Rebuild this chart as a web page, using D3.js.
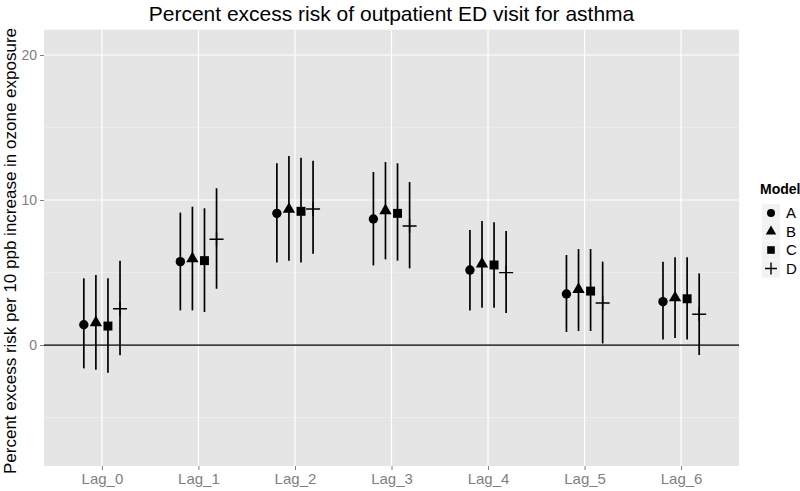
<!DOCTYPE html>
<html>
<head>
<meta charset="utf-8">
<script src="https://cdn.jsdelivr.net/npm/d3@7/dist/d3.min.js"></script>
<style>
  html, body { margin: 0; padding: 0; background: #ffffff; }
  svg { display: block; font-family: "Liberation Sans", Arial, sans-serif; }
</style>
</head>
<body>
<svg id="chart" width="800" height="491"></svg>
<script>
// ---- Data ----
const lags = ["Lag_0", "Lag_1", "Lag_2", "Lag_3", "Lag_4", "Lag_5", "Lag_6"];
const models = ["A", "B", "C", "D"];

const estA = [1.40, 5.75, 9.08, 8.69, 5.17, 3.52, 2.99];
const loA  = [-1.61, 2.39, 5.70, 5.49, 2.39, 0.90, 0.39];
const hiA  = [4.60, 9.13, 12.53, 11.93, 7.93, 6.21, 5.75];

const estB = [1.54, 5.95, 9.36, 9.26, 5.59, 3.84, 3.26];
const loB  = [-1.70, 2.39, 5.82, 5.91, 2.57, 0.97, 0.48];
const hiB  = [4.83, 9.54, 13.03, 12.62, 8.55, 6.62, 6.05];

const estC = [1.31, 5.82, 9.22, 9.08, 5.52, 3.72, 3.19];
const loC  = [-1.91, 2.28, 5.70, 5.82, 2.57, 0.97, 0.39];
const hiC  = [4.60, 9.43, 12.92, 12.53, 8.46, 6.62, 6.05];

const estD = [2.50, 7.29, 9.38, 8.21, 4.99, 2.90, 2.12];
const loD  = [-0.71, 3.88, 6.30, 5.29, 2.21, 0.11, -0.69];
const hiD  = [5.82, 10.81, 12.71, 11.24, 7.86, 5.75, 4.94];

const yMajorTicks = [0, 10, 20];
const yMinorTicks = [-5, 5, 15];
const yDomain = [-8.34, 21.75];

const titleText = "Percent excess risk of outpatient ED visit for asthma";
const yLabelText = "Percent excess risk per 10 ppb increase in ozone exposure";
const legendTitle = "Model";

// ---- Build rows ----
const seriesEst = [estA, estB, estC, estD];
const seriesLo = [loA, loB, loC, loD];
const seriesHi = [hiA, hiB, hiC, hiD];
const rows = [];
models.forEach((m, mi) => {
  lags.forEach((l, li) => {
    rows.push({ model: m, mi: mi, lag: l, est: seriesEst[mi][li], lo: seriesLo[mi][li], hi: seriesHi[mi][li] });
  });
});

// ---- Layout ----
const panel = { left: 44, right: 739, top: 29.6, bottom: 466 };
const svg = d3.select("#chart");

const x = d3.scalePoint().domain(lags).range([panel.left, panel.right]).padding(0.6);
const y = d3.scaleLinear().domain(yDomain).range([panel.bottom, panel.top]);
const dodge = d3.scalePoint().domain(models).range([-0.1875, 0.1875]);

// Panel background
svg.append("rect")
  .attr("x", panel.left).attr("y", panel.top)
  .attr("width", panel.right - panel.left).attr("height", panel.bottom - panel.top)
  .attr("fill", "#E5E5E5");

// Minor grid
svg.append("g").selectAll("line").data(yMinorTicks).join("line")
  .attr("x1", panel.left).attr("x2", panel.right)
  .attr("y1", d => y(d)).attr("y2", d => y(d))
  .attr("stroke", "#F2F2F2").attr("stroke-width", 0.6);

// Major grid
svg.append("g").selectAll("line").data(yMajorTicks).join("line")
  .attr("x1", panel.left).attr("x2", panel.right)
  .attr("y1", d => y(d)).attr("y2", d => y(d))
  .attr("stroke", "#FFFFFF").attr("stroke-width", 1.2);
svg.append("g").selectAll("line").data(lags).join("line")
  .attr("x1", d => x(d)).attr("x2", d => x(d))
  .attr("y1", panel.top).attr("y2", panel.bottom)
  .attr("stroke", "#FFFFFF").attr("stroke-width", 1.2);

// Zero line
svg.append("line")
  .attr("x1", panel.left).attr("x2", panel.right)
  .attr("y1", y(0)).attr("y2", y(0))
  .attr("stroke", "#404040").attr("stroke-width", 1.8);

// Axes
const axisColor = "#7F7F7F";
const yAxis = svg.append("g").attr("transform", `translate(${panel.left},0)`)
  .call(d3.axisLeft(y).tickValues(yMajorTicks).tickSize(4).tickPadding(3).tickFormat(d3.format("d")));
yAxis.select(".domain").remove();
yAxis.selectAll("line").attr("stroke", axisColor).attr("stroke-width", 1);
yAxis.selectAll("text").attr("fill", axisColor).style("font-size", "14px")
  .style("font-family", "'Liberation Sans', Arial, sans-serif");

const xAxis = svg.append("g").attr("transform", `translate(0,${panel.bottom})`)
  .call(d3.axisBottom(x).tickSize(4).tickPadding(3));
xAxis.select(".domain").remove();
xAxis.selectAll("line").attr("stroke", axisColor).attr("stroke-width", 1);
xAxis.selectAll("text").attr("fill", axisColor).style("font-size", "15px")
  .style("font-family", "'Liberation Sans', Arial, sans-serif");

// Error bars
const step = x.step();
const px = d => x(d.lag) + dodge(d.model) * step;
svg.append("g").selectAll("line").data(rows).join("line")
  .attr("x1", px).attr("x2", px)
  .attr("y1", d => y(d.lo)).attr("y2", d => y(d.hi))
  .attr("stroke", "#000").attr("stroke-width", 1.7);

// Shapes
const plusPath = s => `M${-s},0H${s}M0,${-s}V${s}`;
function drawShape(g, model, scale) {
  const k = scale || 1;
  if (model === "A") {
    g.append("circle").attr("r", 4.7 * k).attr("fill", "#000");
  } else if (model === "B") {
    g.append("path").attr("d", d3.symbol(d3.symbolTriangle, 66 * k * k)()).attr("fill", "#000");
  } else if (model === "C") {
    g.append("path").attr("d", d3.symbol(d3.symbolSquare, 80 * k * k)()).attr("fill", "#000");
  } else {
    g.append("path").attr("d", plusPath(7 * k)).attr("stroke", "#000").attr("stroke-width", 1.4).attr("fill", "none");
  }
}
const pts = svg.append("g");
rows.forEach(d => {
  const g = pts.append("g").attr("transform", `translate(${px(d)},${y(d.est)})`);
  drawShape(g, d.model, 1);
});

// Title
svg.append("text")
  .attr("x", (panel.left + panel.right) / 2).attr("y", 21)
  .attr("text-anchor", "middle")
  .style("font-size", "21px").attr("fill", "#000")
  .text(titleText);

// Y label
svg.append("text")
  .attr("transform", `translate(16,${251}) rotate(-90)`)
  .attr("text-anchor", "middle")
  .style("font-size", "17px").attr("fill", "#000")
  .text(yLabelText);

// Legend
const leg = svg.append("g");
leg.append("text").attr("x", 760).attr("y", 194)
  .style("font-size", "14px").style("font-weight", "bold").attr("fill", "#000")
  .text(legendTitle);
models.forEach((m, i) => {
  const cy = 213 + i * 18.5;
  leg.append("rect").attr("x", 762).attr("y", cy - 9).attr("width", 18).attr("height", 18)
    .attr("fill", "#F2F2F2");
  const g = leg.append("g").attr("transform", `translate(771,${cy})`);
  drawShape(g, m, 0.85);
  leg.append("text").attr("x", 786).attr("y", cy + 5)
    .style("font-size", "15px").attr("fill", "#000").text(m);
});
</script>
</body>
</html>
